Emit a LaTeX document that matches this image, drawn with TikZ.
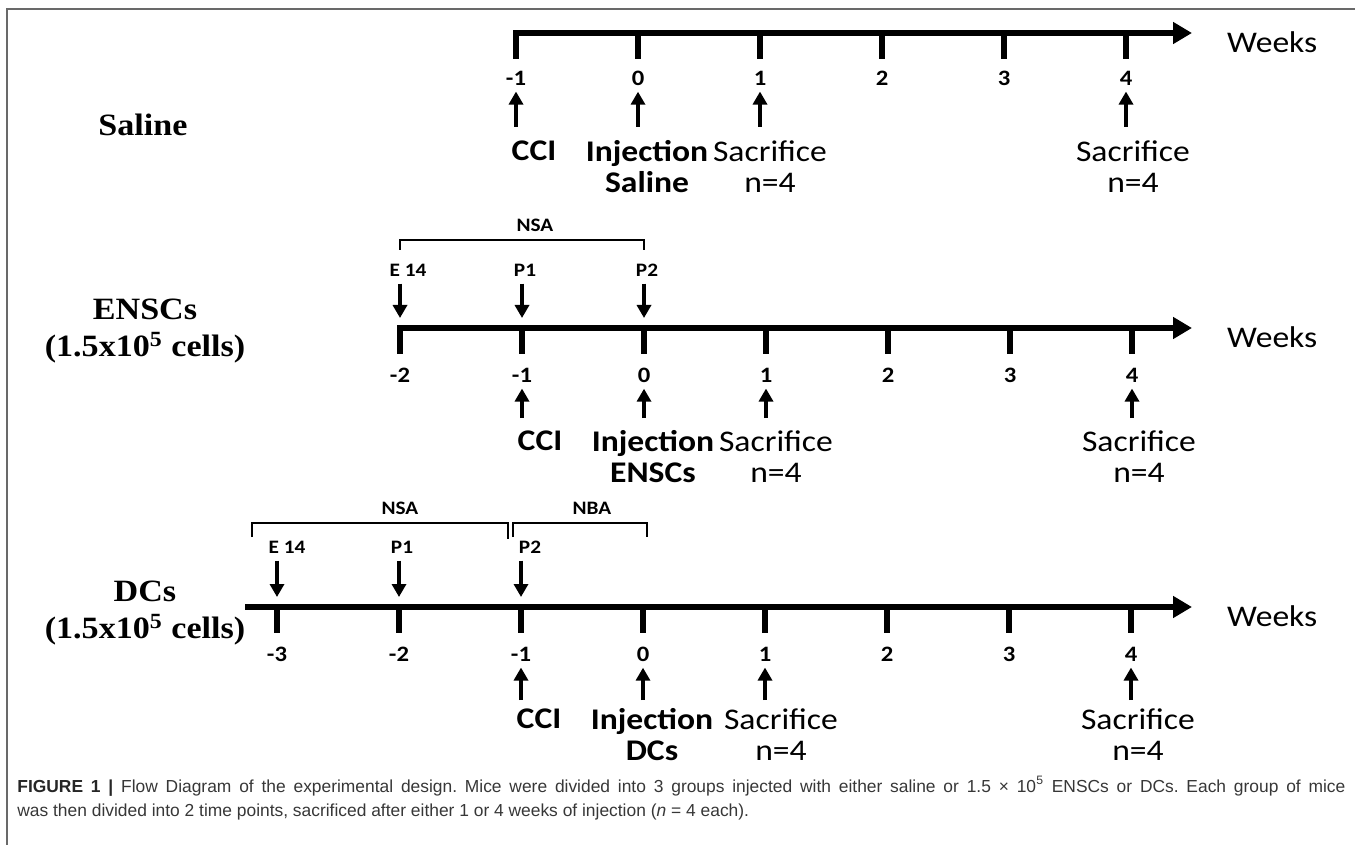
\documentclass[tikz,border=0pt]{standalone}
\usepackage{fontspec}
\usetikzlibrary{arrows.meta}
\newfontfamily\grpfont[FakeStretch=1.1]{Liberation Serif}
\newfontfamily\calib[FakeStretch=1.12]{Carlito}
\newfontfamily\capfont{Liberation Sans}
\definecolor{FrameGray}{RGB}{105,105,105}
\definecolor{CapGray}{RGB}{55,55,55}
\frenchspacing
\tikzset{
	timeaxis/.style={line width=2.6pt,-{Triangle[length=9.5pt,width=10.5pt]}},
	tickmark/.style={line width=2.6pt,line cap=rect},
	brace/.style={line width=1.2pt},
	evarrow/.style={line width=2pt,-{Triangle[length=6.5pt,width=7pt]},shorten <=2.5pt,shorten >=2pt},
	ticklab/.style={inner sep=1pt,font=\calib\bfseries\fontsize{11}{13}\selectfont},
	toplab/.style={inner sep=1pt,font=\calib\bfseries\fontsize{9.5}{11}\selectfont},
	evlab/.style={anchor=north,align=center,inner sep=1pt,font=\calib\fontsize{15}{15.5}\selectfont},
	evbold/.style={evlab,font=\calib\bfseries\fontsize{15}{15.5}\selectfont},
	weeks/.style={font=\calib\fontsize{15}{18}\selectfont},
	grouplab/.style={align=center,font=\grpfont\bfseries\fontsize{15.5}{18.5}\selectfont},
	captext/.style={anchor=base west,inner sep=0pt,text=CapGray,font=\capfont\fontsize{8.7}{12}\selectfont},
}

\begin{document}
\begin{tikzpicture}[x=0.5pt,y=-0.5pt]
	\useasboundingbox (0,0) rectangle (1355,845);
	\draw[FrameGray,line width=0.8pt] (7,845) -- (7,9) -- (1355,9);

	% saline group
	\node[grouplab] (gsal) at (143,125) {Saline};
	\coordinate (sa0) at (516,33);
	\coordinate (sa1) at (1192,33);
	\draw[timeaxis] (sa0) -- (sa1);
	\node[weeks,anchor=west] (saw) at (1220,42) {Weeks};
	\foreach \w [count=\i] in {-1,...,4}{
		\draw[tickmark] (638+122*\w,33) -- ++(0,23);
		\node[ticklab] (sat\i) at (638+122*\w,78) {\w};
	}
	\node[evbold] (sacci) at (534,138) {CCI};
	\node[evbold] (sainj) at (647,138) {Injection\\Saline};
	\node[evlab] (sasac1) at (770,138) {Sacrifice\\n=4};
	\node[evlab] (sasac4) at (1133,138) {Sacrifice\\n=4};
	\foreach \e/\t in {sacci/1,sainj/2,sasac1/3,sasac4/6}
		\draw[evarrow,shorten <=5.5pt] (\e.north -| sat\t) -- (sat\t.south);

	% ENSCs group
	\node[grouplab] (gens) at (145,331) {ENSCs\\(1.5x10\textsuperscript{5} cells)};
	\coordinate (en0) at (400,328);
	\coordinate (en1) at (1192,328);
	\draw[timeaxis] (en0) -- (en1);
	\node[weeks,anchor=west] (enw) at (1220,337) {Weeks};
	\foreach \w [count=\i] in {-2,...,4}{
		\coordinate (enx\i) at (644+122*\w,328);
		\draw[tickmark] (enx\i) -- ++(0,23);
		\node[ticklab] (ent\i) at (644+122*\w,375) {\w};
	}
	\draw[brace] (400,250) -- (400,240) -- (644,240) -- (644,250);
	\node[toplab] (ennsa) at (535,225) {NSA};
	\node[toplab] (ene14) at (408,270) {E 14};
	\node[toplab] (enp1) at (525,270) {P1};
	\node[toplab] (enp2) at (647,270) {P2};
	\foreach \e/\t in {ene14/1,enp1/2,enp2/3}
		\draw[evarrow,shorten >=5pt] (\e.south -| enx\t) -- (enx\t);
	\node[evbold] (encci) at (540,428) {CCI};
	\node[evbold] (eninj) at (653,428) {Injection\\ENSCs};
	\node[evlab] (ensac1) at (776,428) {Sacrifice\\n=4};
	\node[evlab] (ensac4) at (1139,428) {Sacrifice\\n=4};
	\foreach \e/\t in {encci/2,eninj/3,ensac1/4,ensac4/7}
		\draw[evarrow,shorten <=5pt] (\e.north -| ent\t) -- (ent\t.south);

	% DCs group
	\node[grouplab] (gdc) at (145,613) {DCs\\(1.5x10\textsuperscript{5} cells)};
	\coordinate (dc0) at (245,607);
	\coordinate (dc1) at (1192,607);
	\draw[timeaxis] (dc0) -- (dc1);
	\node[weeks,anchor=west] (dcw) at (1220,616) {Weeks};
	\foreach \w [count=\i] in {-3,...,4}{
		\coordinate (dcx\i) at (643+122*\w,607);
		\draw[tickmark] (dcx\i) -- ++(0,23);
		\node[ticklab] (dct\i) at (643+122*\w,654) {\w};
	}
	\draw[brace] (252,537) -- (252,523) -- (508,523) -- (508,539);
	\draw[brace] (513,537) -- (513,523) -- (647,523) -- (647,537);
	\node[toplab] (dcnsa) at (400,508) {NSA};
	\node[toplab] (dcnba) at (592,508) {NBA};
	\node[toplab] (dce14) at (287,547) {E 14};
	\node[toplab] (dcp1) at (402,547) {P1};
	\node[toplab] (dcp2) at (530,547) {P2};
	\foreach \e/\t in {dce14/1,dcp1/2,dcp2/3}
		\draw[evarrow,shorten >=5pt] (\e.south -| dcx\t) -- (dcx\t);
	\node[evbold] (dccci) at (539,706) {CCI};
	\node[evbold] (dcinj) at (652,706) {Injection\\DCs};
	\node[evlab] (dcsac1) at (781,706) {Sacrifice\\n=4};
	\node[evlab] (dcsac4) at (1138,706) {Sacrifice\\n=4};
	\foreach \e/\t in {dccci/3,dcinj/4,dcsac1/5,dcsac4/8}
		\draw[evarrow,shorten <=3pt] (\e.north -| dct\t) -- (dct\t.south);

	% caption
	\node[captext] (cap1) at (17,792) {\hbox to 664pt{{\bfseries\color{black!85}FIGURE 1 |} Flow Diagram of the experimental design. Mice were divided into 3 groups injected with either saline or 1.5 × 10\textsuperscript{5} ENSCs or DCs. Each group of mice}};
	\node[captext] (cap2) at (17,816) {was then divided into 2 time points, sacrificed after either 1 or 4 weeks of injection (\textit{n} = 4 each).};
\end{tikzpicture}
\end{document}
